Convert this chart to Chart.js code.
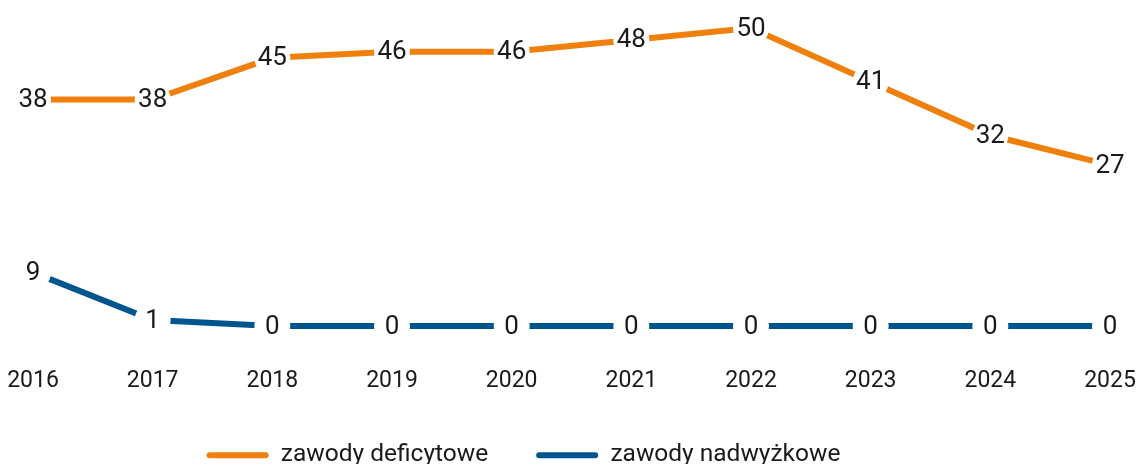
<!DOCTYPE html>
<html>
<head>
<meta charset="utf-8">
<script src="https://cdn.jsdelivr.net/npm/chart.js@4/dist/chart.umd.min.js"></script>
<style>
  html, body { margin: 0; padding: 0; background: #fff; overflow: hidden; }
  body { width: 1147px; height: 464px; }
</style>
</head>
<body>
<canvas id="chart" width="1147" height="477"></canvas>
<script>
// years on the x axis
const years = ['2016', '2017', '2018', '2019', '2020', '2021', '2022', '2023', '2024', '2025'];
// number of occupations per year
const deficytowe = [38, 38, 45, 46, 46, 48, 50, 41, 32, 27];
const nadwyzkowe = [9, 1, 0, 0, 0, 0, 0, 0, 0, 0];
const seriesNames = ['zawody deficytowe', 'zawody nadwyżkowe'];

const ORANGE = '#F0800C';
const BLUE = '#00558F';
const TEXT = '#1a1a1a';
const FONT = 'Roboto';

// value labels drawn on top of the white point discs
const valueLabels = {
  id: 'valueLabels',
  afterDatasetsDraw(chart) {
    const ctx = chart.ctx;
    ctx.save();
    ctx.font = '26px ' + FONT;
    ctx.fillStyle = TEXT;
    ctx.textAlign = 'center';
    ctx.textBaseline = 'middle';
    chart.data.datasets.forEach((ds, i) => {
      chart.getDatasetMeta(i).data.forEach((pt, j) => {
        ctx.fillText(String(ds.data[j]), pt.x, pt.y + 1);
      });
    });
    ctx.restore();
  }
};

// legend sits a bit left of centre in the original
const shiftLegend = {
  id: 'shiftLegend',
  afterLayout(chart) {
    chart.legend.left -= 48;
    chart.legend.right -= 48;
  }
};

const lineDs = (label, data, color) => ({
  label: label,
  data: data,
  borderColor: color,
  backgroundColor: color,
  borderWidth: 6,
  tension: 0,
  pointRadius: 18,
  pointHoverRadius: 18,
  pointBackgroundColor: '#fff',
  pointBorderWidth: 0,
  clip: false,
});

new Chart(document.getElementById('chart'), {
  type: 'line',
  data: {
    labels: years,
    datasets: [
      lineDs(seriesNames[0], deficytowe, ORANGE),
      lineDs(seriesNames[1], nadwyzkowe, BLUE),
    ],
  },
  options: {
    responsive: false,
    devicePixelRatio: 1,
    animation: false,
    events: [],
    layout: { autoPadding: false, padding: { top: 28, left: 33, right: 37, bottom: 0 } },
    plugins: {
      tooltip: { enabled: false },
      legend: {
        position: 'bottom',
        maxHeight: 82,
        labels: {
          color: TEXT,
          font: { family: FONT, size: 24.5 },
          boxWidth: 62,
          boxHeight: 6,
          useBorderRadius: true,
          borderRadius: 3,
          padding: 48,
          generateLabels(chart) {
            return Chart.defaults.plugins.legend.labels.generateLabels(chart).map(l => {
              l.lineWidth = 0;
              l.fillStyle = chart.data.datasets[l.datasetIndex].borderColor;
              return l;
            });
          },
        },
      },
    },
    scales: {
      y: { display: false, min: 0, max: 50 },
      x: {
        offset: false,
        grid: { display: false, drawTicks: false },
        border: { display: false },
        ticks: {
          color: TEXT,
          font: { family: FONT, size: 23 },
          padding: 41,
          maxRotation: 0,
          autoSkip: false,
        },
        afterFit(scale) {
          // tick padding is otherwise counted twice and added to the sides
          scale.height = 69;
          scale.paddingLeft = 0;
          scale.paddingRight = 0;
        },
      },
    },
  },
  plugins: [valueLabels, shiftLegend],
});
</script>
</body>
</html>
